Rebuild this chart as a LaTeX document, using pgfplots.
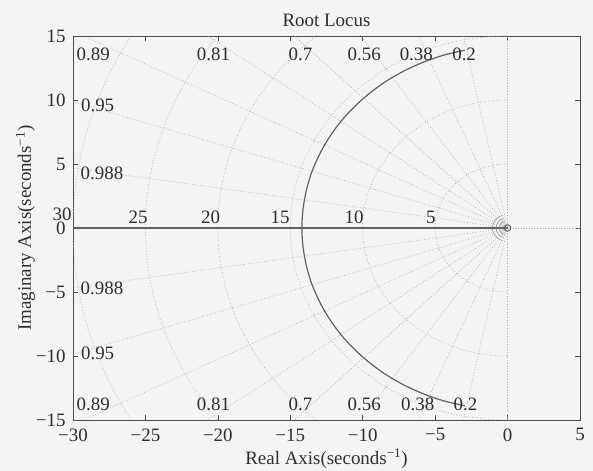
\documentclass[border=0pt]{standalone}
\usepackage{fontspec}
\setmainfont{Liberation Serif}
\usepackage{pgfplots}
\pgfplotsset{compat=1.18}
\definecolor{bg}{gray}{0.955}
\definecolor{axc}{gray}{0.3}
\definecolor{grc}{gray}{0.68}
\definecolor{loc}{gray}{0.38}
\definecolor{txt}{gray}{0.18}
\begin{document}
\fontsize{19}{22}\selectfont
\begin{tikzpicture}
\fill[bg] (-73bp,-51bp) rectangle (520bp,420bp);
\path[use as bounding box] (-73bp,-51bp) rectangle (520bp,420bp);
\begin{axis}[
  at={(0,0)}, anchor=south west,
  width=507bp, height=384bp, scale only axis,
  xmin=-30, xmax=5, ymin=-15, ymax=15,
  xtick={-30,-25,-20,-15,-10,-5,0,5},
  ytick={-15,-10,-5,0,5,10,15},
  xticklabels={−30,−25,−20,−15,−10,−5,0,5},
  yticklabels={−15,−10,−5,0,5,10,15},
  tick align=inside, major tick length=5bp,
  tick style={axc, line width=0.6pt},
  axis line style={axc, line width=0.8pt},
  ticklabel style={font=\fontsize{19}{22}\selectfont, text=txt},
  xticklabel style={yshift=-2bp},
  yticklabel style={xshift=-1bp},
  title={Root Locus},
  title style={font=\fontsize{19}{22}\selectfont, text=txt, yshift=-3bp},
  xlabel={Real Axis(seconds\textsuperscript{−1})},
  ylabel={Imaginary Axis(seconds\textsuperscript{−1})},
  label style={font=\fontsize{19}{22}\selectfont, text=txt},
  xlabel style={yshift=5bp},
  ylabel style={yshift=-12bp},
  clip mode=individual,
]
% damping rays (sgrid)
\addplot[grc, dotted, line width=0.7pt, forget plot] coordinates {(0,0) (-8,39.19)};
\addplot[grc, dotted, line width=0.7pt, forget plot] coordinates {(0,0) (-15.2,37.0)};
\addplot[grc, dotted, line width=0.7pt, forget plot] coordinates {(0,0) (-22.4,33.14)};
\addplot[grc, dotted, line width=0.7pt, forget plot] coordinates {(0,0) (-28,28.56)};
\addplot[grc, dotted, line width=0.7pt, forget plot] coordinates {(0,0) (-32.4,23.46)};
\addplot[grc, dotted, line width=0.7pt, forget plot] coordinates {(0,0) (-35.6,18.24)};
\addplot[grc, dotted, line width=0.7pt, forget plot] coordinates {(0,0) (-38,12.49)};
\addplot[grc, dotted, line width=0.7pt, forget plot] coordinates {(0,0) (-39.52,6.18)};
\addplot[grc, dotted, line width=0.7pt, forget plot] coordinates {(0,0) (-8,-39.19)};
\addplot[grc, dotted, line width=0.7pt, forget plot] coordinates {(0,0) (-15.2,-37.0)};
\addplot[grc, dotted, line width=0.7pt, forget plot] coordinates {(0,0) (-22.4,-33.14)};
\addplot[grc, dotted, line width=0.7pt, forget plot] coordinates {(0,0) (-28,-28.56)};
\addplot[grc, dotted, line width=0.7pt, forget plot] coordinates {(0,0) (-32.4,-23.46)};
\addplot[grc, dotted, line width=0.7pt, forget plot] coordinates {(0,0) (-35.6,-18.24)};
\addplot[grc, dotted, line width=0.7pt, forget plot] coordinates {(0,0) (-38,-12.49)};
\addplot[grc, dotted, line width=0.7pt, forget plot] coordinates {(0,0) (-39.52,-6.18)};
% imaginary axis and positive real axis
\addplot[grc, dotted, line width=0.7pt, forget plot] coordinates {(0,-15) (0,15)};
\addplot[grc, dotted, line width=0.7pt, forget plot] coordinates {(0,0) (5,0)};
% natural frequency circles
\begin{scope}
\clip (axis cs:-30,-15) rectangle (axis cs:5,15);
\draw[grc, dotted, line width=0.7pt] (axis cs:0,5) arc[start angle=90, end angle=270, x radius=5, y radius=5];
\draw[grc, dotted, line width=0.7pt] (axis cs:0,10) arc[start angle=90, end angle=270, x radius=10, y radius=10];
\draw[grc, dotted, line width=0.7pt] (axis cs:0,15) arc[start angle=90, end angle=270, x radius=15, y radius=15];
\draw[grc, dotted, line width=0.7pt] (axis cs:0,20) arc[start angle=90, end angle=270, x radius=20, y radius=20];
\draw[grc, dotted, line width=0.7pt] (axis cs:0,25) arc[start angle=90, end angle=270, x radius=25, y radius=25];
\draw[grc, dotted, line width=0.7pt] (axis cs:0,30) arc[start angle=90, end angle=270, x radius=30, y radius=30];
\end{scope}
% small rings near the origin
\draw[gray!75, line width=0.6pt] (axis cs:-0.103,0.282) arc[start angle=110, end angle=250, x radius=0.3, y radius=0.3];
\draw[gray!75, line width=0.6pt] (axis cs:-0.188,0.517) arc[start angle=110, end angle=250, x radius=0.55, y radius=0.55];
\draw[gray!75, line width=0.6pt] (axis cs:-0.274,0.752) arc[start angle=110, end angle=250, x radius=0.8, y radius=0.8];
\draw[gray!75, line width=0.6pt] (axis cs:-0.359,0.987) arc[start angle=110, end angle=250, x radius=1.05, y radius=1.05];
% root locus
\addplot[loc, line width=1.2pt, forget plot] coordinates {(-31,0) (0,0)};
\addplot[loc, line width=1.2pt, smooth, forget plot] coordinates {
(-2.95,13.89) (-4.39,13.51) (-5.78,12.97) (-7.10,12.30) (-8.35,11.49) (-9.50,10.55)
(-10.55,9.50) (-11.49,8.35) (-12.30,7.10) (-12.97,5.78) (-13.51,4.39) (-13.89,2.95)
(-14.12,1.48) (-14.2,0)
(-14.12,-1.48) (-13.89,-2.95) (-13.51,-4.39) (-12.97,-5.78) (-12.30,-7.10) (-11.49,-8.35)
(-10.55,-9.50) (-9.50,-10.55) (-8.35,-11.49) (-7.10,-12.30) (-5.78,-12.97) (-4.39,-13.51)
(-2.95,-13.89)};
\addplot[loc, only marks, mark=o, mark size=3.2bp, line width=1pt, forget plot] coordinates {(0,0)};
% damping labels
\node[txt] at (axis cs:-28.6,13.55) {0.89};
\node[txt] at (axis cs:-20.3,13.55) {0.81};
\node[txt] at (axis cs:-14.3,13.55) {0.7};
\node[txt] at (axis cs:-9.9,13.55) {0.56};
\node[txt] at (axis cs:-6.3,13.55) {0.38};
\node[txt] at (axis cs:-3.0,13.55) {0.2};
\node[txt] at (axis cs:-28.6,-13.75) {0.89};
\node[txt] at (axis cs:-20.3,-13.75) {0.81};
\node[txt] at (axis cs:-14.3,-13.75) {0.7};
\node[txt] at (axis cs:-9.9,-13.75) {0.56};
\node[txt] at (axis cs:-6.2,-13.75) {0.38};
\node[txt] at (axis cs:-2.9,-13.75) {0.2};
\node[txt] at (axis cs:-28.3,9.6) {0.95};
\node[txt] at (axis cs:-28.0,4.3) {0.988};
\node[txt] at (axis cs:-28.3,-9.8) {0.95};
\node[txt] at (axis cs:-28.0,-4.7) {0.988};
% natural frequency labels
\node[txt, inner sep=0pt] at (axis cs:-30.75,1.1) {30};
\node[txt] at (axis cs:-25.5,0.8) {25};
\node[txt] at (axis cs:-20.5,0.8) {20};
\node[txt] at (axis cs:-15.7,0.8) {15};
\node[txt] at (axis cs:-10.6,0.8) {10};
\node[txt] at (axis cs:-5.3,0.8) {5};
\end{axis}
\end{tikzpicture}
\end{document}
